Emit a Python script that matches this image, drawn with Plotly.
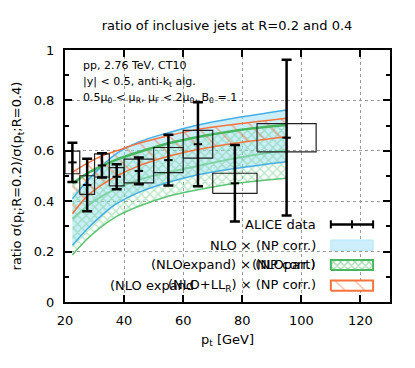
import plotly.graph_objects as go

# ALICE data: bins, central values, stat and sys errors
bin_lo = [20, 25, 30, 35, 40, 50, 60, 70, 85]
bin_hi = [25, 30, 35, 40, 50, 60, 70, 85, 105]
pt = [22.5, 27.5, 32.5, 37.5, 45, 55, 65, 77.5, 95]
ratio = [0.554, 0.464, 0.542, 0.497, 0.520, 0.563, 0.626, 0.471, 0.652]
stat = [0.078, 0.104, 0.048, 0.050, 0.053, 0.101, 0.167, 0.152, 0.309]
sys = [0.045, 0.037, 0.046, 0.036, 0.047, 0.050, 0.055, 0.040, 0.056]

# theory curves evaluated at the bin centres
nlo_up = [0.410, 0.480, 0.540, 0.590, 0.635, 0.672, 0.702, 0.730, 0.762]
nlo_lo = [0.225, 0.290, 0.345, 0.390, 0.435, 0.475, 0.505, 0.530, 0.557]
exp_up = [0.470, 0.510, 0.540, 0.565, 0.595, 0.630, 0.655, 0.680, 0.702]
exp_lo = [0.187, 0.250, 0.300, 0.340, 0.380, 0.420, 0.445, 0.470, 0.491]
exp_mid = [0.330, 0.380, 0.420, 0.450, 0.485, 0.515, 0.540, 0.570, 0.603]
ll_up = [0.515, 0.550, 0.580, 0.600, 0.630, 0.660, 0.685, 0.705, 0.729]
ll_lo = [0.350, 0.420, 0.465, 0.500, 0.540, 0.578, 0.605, 0.630, 0.656]

BLUE = "#45aee3"
BLUE_FILL = "rgba(140,218,246,0.45)"
GREEN = "#45b85e"
GREEN_HATCH = "#6fcf8a"
ORANGE = "#f5733c"
FONT = "DejaVu Sans"

fig = go.Figure()

# NLO band
fig.add_trace(go.Scatter(x=pt, y=nlo_lo, mode="lines", line=dict(width=0), line_shape="spline",
                         showlegend=False, hoverinfo="skip"))
fig.add_trace(go.Scatter(x=pt, y=nlo_up, mode="lines", line=dict(width=0), line_shape="spline",
                         fill="tonexty", fillcolor=BLUE_FILL, showlegend=False, hoverinfo="skip"))

# NLO expanded band (crosshatch)
fig.add_trace(go.Scatter(x=pt, y=exp_lo, mode="lines", line=dict(width=0), line_shape="spline",
                         showlegend=False, hoverinfo="skip"))
fig.add_trace(go.Scatter(x=pt, y=exp_up, mode="lines", line=dict(width=0), line_shape="spline",
                         fill="tonexty", fillcolor="rgba(0,0,0,0)",
                         fillpattern=dict(shape="x", fgcolor=GREEN_HATCH, bgcolor="rgba(0,0,0,0)",
                                          size=6, solidity=0.4),
                         showlegend=False, hoverinfo="skip"))

# NLO exp + LL_R band (hatched)
fig.add_trace(go.Scatter(x=pt, y=ll_lo, mode="lines", line=dict(width=0), line_shape="spline",
                         showlegend=False, hoverinfo="skip"))
fig.add_trace(go.Scatter(x=pt, y=ll_up, mode="lines", line=dict(width=0), line_shape="spline",
                         fill="tonexty", fillcolor="rgba(0,0,0,0)",
                         fillpattern=dict(shape="\\", fgcolor=ORANGE, bgcolor="rgba(0,0,0,0)",
                                          size=13, solidity=0.12),
                         showlegend=False, hoverinfo="skip"))

# band edges
for ys, color, width in [
    (exp_mid, "#7fd3a5", 2), (exp_lo, "#5cc474", 1.5),
    (nlo_lo, BLUE, 1.5), (nlo_up, BLUE, 1.5),
    (ll_lo, ORANGE, 1.5), (ll_up, ORANGE, 1.5),
    (exp_up, GREEN, 2.5),
]:
    fig.add_trace(go.Scatter(x=pt, y=ys, mode="lines", line=dict(color=color, width=width),
                             line_shape="spline", showlegend=False, hoverinfo="skip"))

# systematic boxes
bx, by = [], []
for lo, hi, v, s in zip(bin_lo, bin_hi, ratio, sys):
    bx += [lo, hi, hi, lo, lo, None]
    by += [v - s, v - s, v + s, v + s, v - s, None]
fig.add_trace(go.Scatter(x=bx, y=by, mode="lines", line=dict(color="#222222", width=1.2),
                         showlegend=False, hoverinfo="skip"))

# data points with stat errors
fig.add_trace(go.Scatter(
    x=pt, y=ratio, mode="markers",
    marker=dict(symbol="line-ew", size=6, line=dict(width=2, color="black"), color="black"),
    error_y=dict(type="data", array=stat, thickness=2.5, width=5, color="black"),
    showlegend=False, hoverinfo="skip",
))

# ---- key (drawn in an overlay axis spanning the plot area) ----
kx0, kx1 = 0.818, 0.948
fig.add_shape(type="rect", xref="paper", yref="paper", x0=0.126, x1=0.965, y0=0.024, y1=0.34,
              fillcolor="white", line=dict(width=0), layer="between")

fig.add_trace(go.Scatter(x=[kx0, kx1, kx1, kx0, kx0], y=[0.127, 0.127, 0.167, 0.167, 0.127],
                         xaxis="x2", yaxis="y2", mode="lines", fill="toself",
                         line=dict(color=GREEN, width=2), fillcolor="rgba(0,0,0,0)",
                         fillpattern=dict(shape="x", fgcolor=GREEN, bgcolor="white", size=5, solidity=0.45),
                         showlegend=False, hoverinfo="skip"))
fig.add_trace(go.Scatter(x=[kx0, kx1, kx1, kx0, kx0], y=[0.045, 0.045, 0.085, 0.085, 0.045],
                         xaxis="x2", yaxis="y2", mode="lines", fill="toself",
                         line=dict(color=ORANGE, width=2), fillcolor="rgba(0,0,0,0)",
                         fillpattern=dict(shape="\\", fgcolor=ORANGE, bgcolor="white", size=14, solidity=0.1),
                         showlegend=False, hoverinfo="skip"))
fig.add_shape(type="rect", xref="paper", yref="paper", x0=kx0, x1=kx1, y0=0.205, y1=0.246,
              fillcolor="#cdeffb", line=dict(color="#b5e6f8", width=1))
# data sample
ky = 0.308
fig.add_shape(type="line", xref="paper", yref="paper", x0=kx0, x1=kx1, y0=ky, y1=ky,
              line=dict(color="black", width=2.5))
for xc in [kx0, (kx0 + kx1) / 2, kx1]:
    fig.add_shape(type="line", xref="paper", yref="paper", x0=xc, x1=xc, y0=ky - 0.016, y1=ky + 0.016,
                  line=dict(color="black", width=2))

key_font = dict(family=FONT, size=13, color="black")
for txt, yy in [("ALICE data", 0.308), ("NLO × (NP corr.)", 0.226),
                ("(NLOexpand) × (NP corr.)", 0.147), ("(NLOpart)", 0.147),
                ("(NLO+LL<sub>R</sub>) × (NP corr.)", 0.065)]:
    fig.add_annotation(text=txt, xref="paper", yref="paper", x=0.778, y=yy, xanchor="right",
                       yanchor="middle", showarrow=False, font=key_font)
fig.add_annotation(text="(NLO expand", xref="paper", yref="paper", x=0.132, y=0.065, xanchor="left",
                   yanchor="middle", showarrow=False, font=key_font)

# info text
info_font = dict(family=FONT, size=11, color="black")
for txt, yy in [("pp, 2.76 TeV, CT10", 0.94), ("|y| < 0.5, anti-k<sub>t</sub> alg.", 0.874),
                ("0.5μ<sub>0</sub> < μ<sub>R</sub>, μ<sub>F</sub> < 2μ<sub>0</sub>, B<sub>0</sub> = 1", 0.808)]:
    fig.add_annotation(text=txt, xref="paper", yref="paper", x=0.049, y=yy, xanchor="left",
                       yanchor="middle", showarrow=False, font=info_font)

axis_common = dict(
    showline=True, linecolor="black", linewidth=2, mirror="allticks",
    ticks="inside", ticklen=7, tickwidth=1.5, tickcolor="black",
    showgrid=True, gridcolor="#9a9a9a", griddash="dot", gridwidth=1,
    zeroline=False, tickfont=dict(family=FONT, size=13, color="black"),
    automargin=False,
)

fig.update_layout(
    width=415, height=368,
    margin=dict(l=65, r=25, t=50, b=66),
    plot_bgcolor="white", paper_bgcolor="white",
    font=dict(family=FONT, size=13, color="black"),
    title=dict(text="ratio of inclusive jets at R=0.2 and 0.4", x=0.547, xanchor="center",
               y=0.932, yanchor="middle", font=dict(family=FONT, size=13), automargin=False),
    xaxis=dict(range=[20, 130], tickvals=[20, 40, 60, 80, 100, 120], ticklabelstandoff=5,
               title=dict(text="p<sub>t</sub> [GeV]", standoff=8, font=dict(family=FONT, size=13)),
               **axis_common),
    yaxis=dict(range=[0, 1], tickvals=[0, 0.2, 0.4, 0.6, 0.8, 1], ticktext=["0", "0.2", "0.4", "0.6", "0.8", "1"],
               ticklabelstandoff=6,
               minor=dict(dtick=0.1, ticks="inside", ticklen=4, tickcolor="black", showgrid=False),
               title=dict(text="ratio σ(p<sub>t</sub>;R=0.2)/σ(p<sub>t</sub>;R=0.4)", standoff=9,
                          font=dict(family=FONT, size=13)),
               **axis_common),
    xaxis2=dict(overlaying="x", range=[0, 1], visible=False),
    yaxis2=dict(overlaying="y", range=[0, 1], visible=False),
)

fig.write_html("out.html", config={"displayModeBar": False},
               post_script="document.body.style.margin='0';")
